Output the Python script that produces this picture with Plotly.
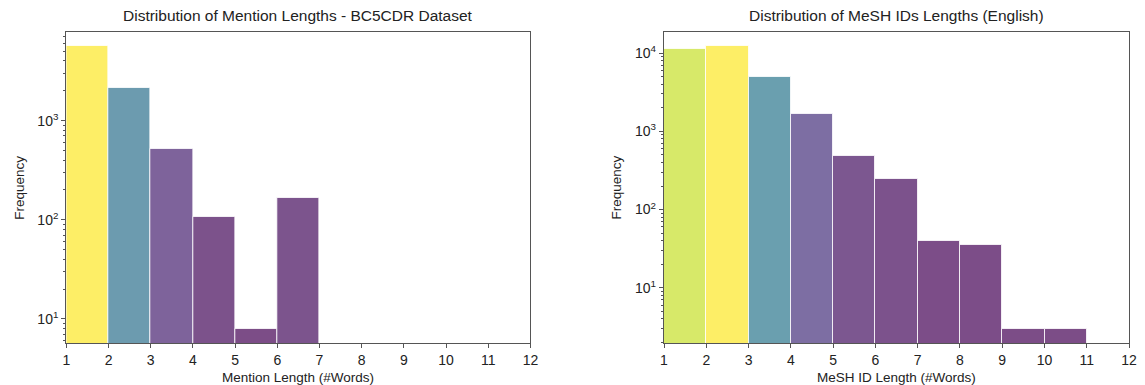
import plotly.graph_objects as go
from plotly.colors import sample_colorscale, unlabel_rgb

# ---- data ----
left_bin_starts = [1, 2, 3, 4, 5, 6]
left_counts = [5700, 2120, 517, 106, 8, 166]

right_bin_starts = [1, 2, 3, 4, 5, 6, 7, 8, 9, 10]
right_counts = [11250, 12300, 4880, 1680, 483, 247, 40, 35, 3, 3]

x_ticks = list(range(1, 13))
left_title = "Distribution of Mention Lengths - BC5CDR Dataset"
right_title = "Distribution of MeSH IDs Lengths (English)"
left_xlabel = "Mention Length (#Words)"
right_xlabel = "MeSH ID Length (#Words)"
ylabel = "Frequency"

FONT = "Liberation Sans, Arial, sans-serif"
AX = "#555555"


def bar_colors(counts):
    m = max(counts)
    cols = sample_colorscale("Viridis", [c / m for c in counts])
    out = []
    for c in cols:
        r, g, b = unlabel_rgb(c)
        a = 0.7
        out.append("rgb(%d,%d,%d)" % (r * a + 255 * (1 - a), g * a + 255 * (1 - a), b * a + 255 * (1 - a)))
    return out


fig = go.Figure()
fig.add_trace(go.Bar(x=left_bin_starts, y=left_counts, width=1, offset=0,
                     marker=dict(color=bar_colors(left_counts), line=dict(color="rgba(255,255,255,0.8)", width=1)),
                     xaxis="x", yaxis="y", showlegend=False))
fig.add_trace(go.Bar(x=right_bin_starts, y=right_counts, width=1, offset=0,
                     marker=dict(color=bar_colors(right_counts), line=dict(color="rgba(255,255,255,0.8)", width=1)),
                     xaxis="x2", yaxis="y2", showlegend=False))

W, H = 1145, 385
lx0, lx1 = 63, 532
rx0, rx1 = 667, 1137
yt, yb = 32, 343


def minor_vals(lo, hi):
    v = []
    for d in range(lo, hi + 1):
        for k in range(2, 10):
            v.append(k * 10 ** d)
    return v


xcommon = dict(range=[1, 12], tickvals=x_ticks, ticks="outside", ticklen=4, tickcolor=AX,
               showline=True, linecolor=AX, linewidth=1.3, mirror=True, showgrid=False, zeroline=False,
               tickfont=dict(size=14, color="#222"))
ycommon = dict(type="log", ticks="outside", ticklen=4, tickcolor=AX,
               showline=True, linecolor=AX, linewidth=1.3, mirror=True, showgrid=False, zeroline=False,
               tickfont=dict(size=14, color="#222"))

fig.update_layout(
    width=W, height=H, margin=dict(l=0, r=0, t=0, b=0),
    plot_bgcolor="white", paper_bgcolor="white", bargap=0,
    font=dict(family=FONT, color="#222"),
    xaxis=dict(domain=[lx0 / W, lx1 / W], anchor="y", **xcommon),
    yaxis=dict(domain=[1 - yb / H, 1 - yt / H], anchor="x", range=[0.757, 3.894],
               tickvals=[10, 100, 1000], ticktext=["10<sup>1</sup>", "10<sup>2</sup>", "10<sup>3</sup>"],
               minor=dict(tickvals=minor_vals(0, 3), ticks="outside", ticklen=2, tickcolor=AX), **ycommon),
    xaxis2=dict(domain=[rx0 / W, rx1 / W], anchor="y2", **xcommon),
    yaxis2=dict(domain=[1 - yb / H, 1 - yt / H], anchor="x2", range=[0.295, 4.269],
                tickvals=[10, 100, 1000, 10000],
                ticktext=["10<sup>1</sup>", "10<sup>2</sup>", "10<sup>3</sup>", "10<sup>4</sup>"],
                minor=dict(tickvals=minor_vals(0, 4), ticks="outside", ticklen=2, tickcolor=AX), **ycommon),
)

ann = []
for x0, x1, t, xl, yx in [(lx0, lx1, left_title, left_xlabel, 16), (rx0, rx1, right_title, right_xlabel, 619)]:
    cx = (x0 + x1) / 2 / W
    ann.append(dict(x=cx, y=1 - 15 / H, xref="paper", yref="paper", text=t, showarrow=False,
                    font=dict(size=15.5, color="#222"), xanchor="center", yanchor="middle"))
    ann.append(dict(x=cx, y=1 - 377 / H, xref="paper", yref="paper", text=xl, showarrow=False,
                    font=dict(size=13.5, color="#222"), xanchor="center", yanchor="middle"))
    ann.append(dict(x=yx / W, y=1 - 188 / H, xref="paper", yref="paper", text=ylabel, showarrow=False,
                    textangle=-90, font=dict(size=13.5, color="#222"), xanchor="center", yanchor="middle"))
fig.update_layout(annotations=ann)

fig.write_html("out.html", config={"displayModeBar": False},
               post_script="document.body.style.margin='0';document.body.style.overflow='hidden';")
